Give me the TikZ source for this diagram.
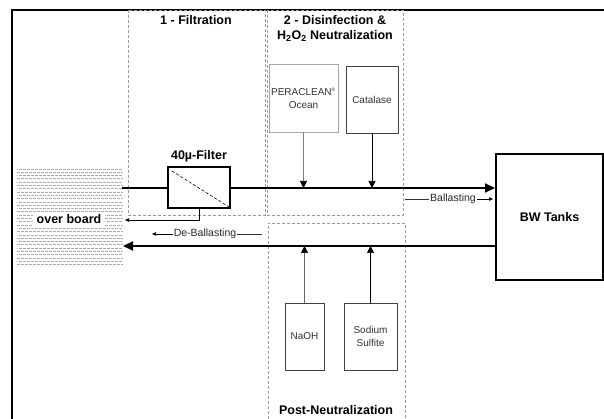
\documentclass[tikz,border=0pt]{standalone}
\usepackage{fontspec}
\setmainfont{Liberation Sans}
\usepackage{tikz}
\usetikzlibrary{arrows.meta, positioning, calc}

\tikzset{
  title/.style={font=\bfseries\fontsize{12.5}{15}\selectfont, align=center, inner sep=0pt},
  small/.style={font=\fontsize{10.5}{13}\selectfont, text=black!85, inner sep=1pt},
  reagent/.style={draw=black!75, line width=0.7pt, inner sep=0pt, align=center,
    font=\fontsize{10}{13}\selectfont, text=black!80},
  section/.style={draw=gray!80, densely dashed, line width=0.7pt},
  pipe/.style={line width=2.2pt, -{Triangle[length=10pt,width=9pt]}},
  dose/.style={line width=0.7pt, -{Triangle[length=7pt,width=7pt,color=black]}},
  tiny arrow/.style={line width=0.6pt, -{Triangle[length=4pt,width=3.5pt]}}
}

\begin{document}
\begin{tikzpicture}[x=1pt,y=-1pt]
  \useasboundingbox (0,0) rectangle (604,419);
  % frame (only top and left edge visible)
  \draw[line width=2.5pt] (12,419) -- (12,10) -- (604,10);
  % process sections
  \draw[section] (128,10) rectangle (265,215);
  \draw[section] (267,10) rectangle (403,215);
  \draw[section] (268,419) -- (268,223) -- (405,223) -- (405,419);
  \node[title] (t1) at (196,20) {1 - Filtration};
  \node[title] (t2) at (335,28.5) {2 - Disinfection \&\\H$_\mathbf{2}$O$_\mathbf{2}$ Neutralization};
  \node[title] (t3) at (336,410) {Post-Neutralization};
  % sea water (over board)
  \foreach \y [count=\i] in {169,172.3,...,265} {
    \pgfmathsetmacro{\ph}{mod(\i,2)*2}
    \draw[gray!65, line width=0.9pt, dash pattern=on 2.5pt off 1.5pt, dash phase=\ph pt] (17,\y) -- (123,\y);
  }
  \node[title, fill=white, inner xsep=3.5pt, inner ysep=2.5pt] (ob) at (69,219) {over board};
  % main units
  \node[draw, line width=2pt, minimum width=62pt, minimum height=41pt, inner sep=0pt] (filter) at (199,187.5) {};
  \draw[densely dashed, line width=0.6pt] ($(filter.north west)+(5,5)$) -- ($(filter.south east)+(-2,-2)$);
  \node[title, above=4pt of filter] (flab) {40µ-Filter};
  \node[draw, line width=2pt, minimum width=107pt, minimum height=126pt, inner sep=0pt] (tanks) at (549.5,217) {};
  \node[title] at (tanks.center) (tlab) {BW Tanks};
  % chemicals
  \node[reagent, draw=gray!70, minimum width=69pt, minimum height=68pt] (pera) at (303.5,98) {PERACLEAN\textsuperscript{\tiny ®}\\Ocean};
  \node[reagent, minimum width=52pt, minimum height=67pt] (cata) at (372,99.5) {Catalase};
  \node[reagent, minimum width=39pt, minimum height=67pt] (naoh) at (304.5,336.5) {NaOH};
  \node[reagent, minimum width=53pt, minimum height=67pt] (sulf) at (370.5,336.5) {Sodium\\Sulfite};
  % pipe lines
  \coordinate (inlet) at (122,188);
  \coordinate (deb) at (123,246);
  \coordinate (waste) at (125,220);
  \draw[line width=2.2pt] (inlet) -- (filter.west |- inlet);
  \draw[pipe] (filter.east |- inlet) -- (tanks.west |- inlet);
  \draw[pipe] (tanks.west |- deb) -- (deb);
  \draw[tiny arrow] (filter.south) |- (waste);
  % dosing
  \draw[dose, gray] (pera.south) -- (pera.south |- inlet);
  \draw[dose] (cata.south) -- (cata.south |- inlet);
  \draw[dose, gray!80!black] (naoh.north) -- (naoh.north |- deb);
  \draw[dose] (sulf.north) -- (sulf.north |- deb);
  % flow labels
  \node[small] (ball) at (453,199) {Ballasting};
  \coordinate (b0) at (405,199);
  \coordinate (b1) at (493,199);
  \draw[line width=0.6pt, black!80] (b0) -- (ball.west);
  \draw[tiny arrow] (ball.east) -- (b1);
  \node[small] (dball) at (205,234) {De-Ballasting};
  \coordinate (d0) at (152,234);
  \coordinate (d1) at (262,234);
  \draw[tiny arrow] (dball.west) -- (d0);
  \draw[line width=0.6pt, black!80] (dball.east) -- (d1);
\end{tikzpicture}
\end{document}
